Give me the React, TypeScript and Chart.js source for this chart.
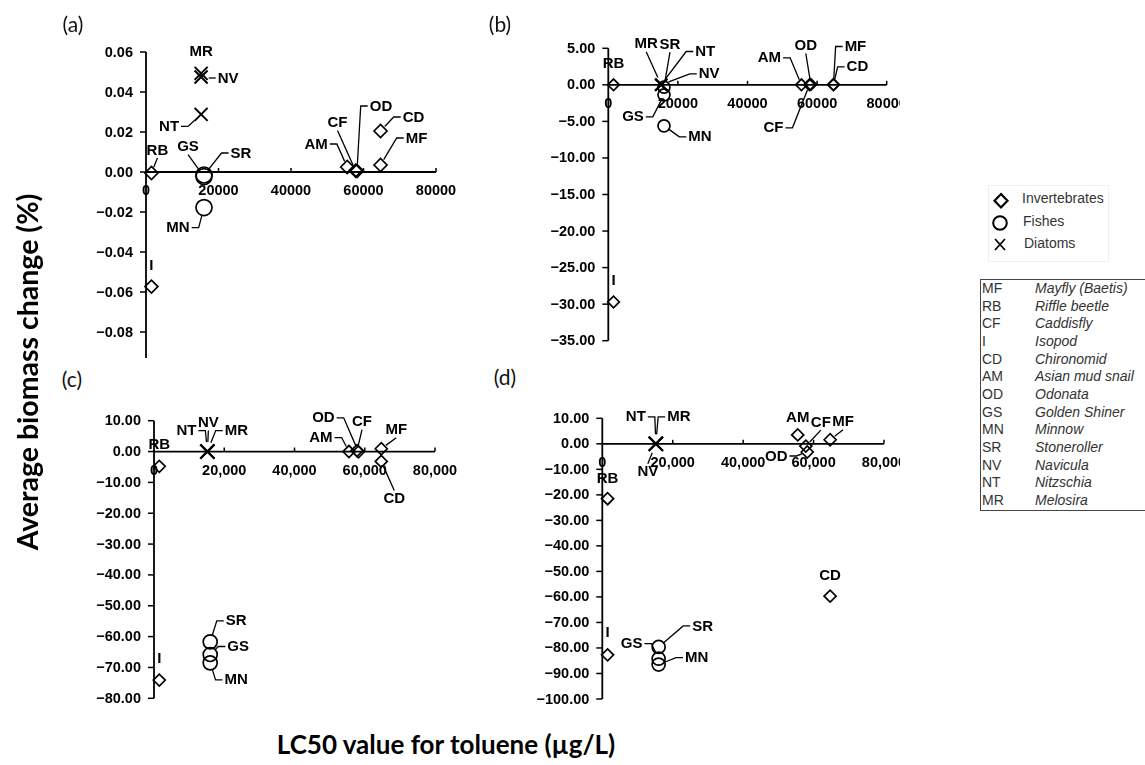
import React, { useEffect, useRef } from "react";
import { Chart, registerables } from "chart.js";
Chart.register(...registerables);

// ---------- DATA ----------
const SPECIES = ["MF", "RB", "CF", "I", "CD", "AM", "OD", "GS", "MN", "SR", "NV", "NT", "MR"];
const SPECIES_NAMES = [
  "Mayfly (Baetis)", "Riffle beetle", "Caddisfly", "Isopod", "Chironomid", "Asian mud snail",
  "Odonata", "Golden Shiner", "Minnow", "Stoneroller", "Navicula", "Nitzschia", "Melosira",
];
const GROUP = ["inv", "inv", "inv", "inv", "inv", "inv", "inv", "fish", "fish", "fish", "diat", "diat", "diat"];
const LC50 = [64700, 1500, 57800, 1500, 64700, 55500, 58200, 16000, 16000, 16000, 15200, 15200, 15200];

const BIOMASS_A = [0.0035, -0.0005, 0.0007, -0.0573, 0.0205, 0.0025, 0.0005, -0.0023, -0.0178, -0.0015, 0.0475, 0.0288, 0.0493];
const BIOMASS_B = [0.05, 0, 0, -29.7, 0, 0, 0.05, -1.36, -5.6, -0.3, 0, 0.05, 0];
const BIOMASS_C = [0.9, -4.8, 0.3, -74.1, -3.2, 0, -0.1, -65.8, -68.5, -61.7, 0, 0, 0];
const BIOMASS_D = [1.6, -21.5, -0.9, -82.7, -59.7, 3.5, -3.2, -84.2, -86.5, -79.6, 0, 0, 0];

const X_TICKS = [0, 20000, 40000, 60000, 80000];
const Y_TICKS_A = [0.06, 0.04, 0.02, 0, -0.02, -0.04, -0.06, -0.08, -0.1];
const Y_TICKS_B = [5, 0, -5, -10, -15, -20, -25, -30, -35];
const Y_TICKS_C = [10, 0, -10, -20, -30, -40, -50, -60, -70, -80];
const Y_TICKS_D = [10, 0, -10, -20, -30, -40, -50, -60, -70, -80, -90, -100];

const GROUPS = [
  { key: "inv", name: "Invertebrates", style: "rectRot" },
  { key: "fish", name: "Fishes", style: "circle" },
  { key: "diat", name: "Diatoms", style: "crossRot" },
];

// ---------- LAYOUT (label offsets in px, leader type) ----------
type Lbl = [string, number, number, "n" | "h" | "v"];
const LABELS_A: Lbl[] = [
  ["MF", 36, -27, "h"], ["RB", 6, -23, "v"], ["CF", -18, -48, "v"], ["I", 0, -21, "n"],
  ["CD", 33, -14, "h"], ["AM", -31, -23, "h"], ["OD", 24, -65, "h"], ["GS", -16, -30, "v"],
  ["MN", -26, 20, "h"], ["SR", 37, -22, "h"], ["NV", 27, 1, "h"], ["NT", -32, 12, "h"], ["MR", 0, -22, "n"],
];
const LABELS_B: Lbl[] = [
  ["MF", 22, -38, "h"], ["RB", 0, -21, "n"], ["CF", -36, 43, "h"], ["I", 0, -22, "n"],
  ["CD", 24, -18, "h"], ["AM", -32, -27, "h"], ["OD", -5, -39, "v"], ["GS", -31, 22, "h"],
  ["MN", 36, 11, "h"], ["SR", 6, -43, "v"], ["NV", 48, -11, "h"], ["NT", 44, -33, "h"], ["MR", -15, -41, "v"],
];
const LABELS_C: Lbl[] = [
  ["MF", 15, -19, "v"], ["RB", 0, -22, "n"], ["CF", 5, -29, "v"], ["I", 0, -22, "n"],
  ["CD", 13, 37, "v"], ["AM", -28, -14, "h"], ["OD", -35, -34, "h"], ["GS", 28, -8, "h"],
  ["MN", 26, 17, "h"], ["SR", 26, -21, "h"], ["NV", 1, -29, "v"], ["NT", -21, -21, "h"], ["MR", 29, -21, "h"],
];
const LABELS_D: Lbl[] = [
  ["MF", 13, -18, "v"], ["RB", 0, -20, "n"], ["CF", 15, -24, "v"], ["I", 0, -22, "n"],
  ["CD", 0, -21, "n"], ["AM", 0, -18, "n"], ["OD", -31, 4, "h"], ["GS", -27, -15, "h"],
  ["MN", 38, -7, "h"], ["SR", 44, -21, "h"], ["NV", -8, 28, "v"], ["NT", -20, -27, "h"], ["MR", 23, -27, "h"],
];

type Cfg = {
  values: number[];
  yTicks: number[];
  yMin: number;
  yMax: number;
  yAxisBottom: number;
  comma: boolean;
  labels: Lbl[];
  radius: Record<string, number>;
  canvas: { left: number; top: number; w: number; h: number };
  area: { l: number; t: number; r: number; b: number };
};

const PANELS: Cfg[] = [
  {
    values: BIOMASS_A, yTicks: Y_TICKS_A, yMin: -0.08, yMax: 0.06, yAxisBottom: -0.1, comma: false,
    labels: LABELS_A, radius: { inv: 6.5, fish: 8, diat: 9.2 },
    canvas: { left: 40, top: 30, w: 440, h: 328 }, area: { l: 146, t: 52, r: 436, b: 332 },
  },
  {
    values: BIOMASS_B, yTicks: Y_TICKS_B, yMin: -35, yMax: 5, yAxisBottom: -35, comma: false,
    labels: LABELS_B, radius: { inv: 5.8, fish: 6, diat: 8.5 },
    canvas: { left: 480, top: 30, w: 420, h: 330 }, area: { l: 608.3, t: 48.3, r: 886.7, b: 340.7 },
  },
  {
    values: BIOMASS_C, yTicks: Y_TICKS_C, yMin: -80, yMax: 10, yAxisBottom: -80, comma: true,
    labels: LABELS_C, radius: { inv: 6, fish: 7, diat: 10 },
    canvas: { left: 40, top: 395, w: 440, h: 320 }, area: { l: 154, t: 420.7, r: 435, b: 698.3 },
  },
  {
    values: BIOMASS_D, yTicks: Y_TICKS_D, yMin: -100, yMax: 10, yAxisBottom: -100, comma: true,
    labels: LABELS_D, radius: { inv: 6, fish: 6.5, diat: 10 },
    canvas: { left: 480, top: 395, w: 420, h: 316 }, area: { l: 602.3, t: 418.3, r: 884, b: 708.3 },
  },
];

const TICK_FONT = "bold 14.5px 'Liberation Sans', Arial, sans-serif";
const LABEL_FONT = "bold 15px 'Liberation Sans', Arial, sans-serif";

function fmtY(v: number) {
  const s = Math.abs(v).toFixed(2);
  return v < 0 ? "\u2212" + s : s;
}
function fmtX(v: number, comma: boolean) {
  return comma ? v.toLocaleString("en-US") : String(v);
}

function axesPlugin(cfg: Cfg) {
  return {
    id: "customAxes",
    beforeDatasetsDraw(chart: any) {
      const ctx = chart.ctx as CanvasRenderingContext2D;
      const xs = chart.scales.x, ys = chart.scales.y;
      const x0 = xs.getPixelForValue(0);
      const y0 = ys.getPixelForValue(0);
      ctx.save();
      ctx.strokeStyle = "#000";
      ctx.lineWidth = 1.8;
      ctx.beginPath();
      ctx.moveTo(x0, ys.getPixelForValue(cfg.yMax));
      ctx.lineTo(x0, ys.getPixelForValue(cfg.yAxisBottom));
      ctx.stroke();
      ctx.beginPath();
      ctx.moveTo(x0, y0);
      ctx.lineTo(xs.getPixelForValue(80000), y0);
      ctx.stroke();
      ctx.lineWidth = 1.5;
      ctx.font = TICK_FONT;
      ctx.fillStyle = "#000";
      ctx.textAlign = "right";
      ctx.textBaseline = "middle";
      for (const t of cfg.yTicks) {
        const py = ys.getPixelForValue(t);
        ctx.beginPath();
        ctx.moveTo(x0 - 6, py);
        ctx.lineTo(x0, py);
        ctx.stroke();
        ctx.fillText(fmtY(t), x0 - 13, py + 0.5);
      }
      ctx.textAlign = "center";
      for (const t of X_TICKS) {
        const px = xs.getPixelForValue(t);
        if (t !== 0) {
          ctx.beginPath();
          ctx.moveTo(px, y0);
          ctx.lineTo(px, y0 - 4);
          ctx.stroke();
        }
        ctx.fillText(fmtX(t, cfg.comma), px, y0 + 19);
      }
      ctx.restore();
    },
  };
}

function labelsPlugin(cfg: Cfg) {
  return {
    id: "pointLabels",
    afterDatasetsDraw(chart: any) {
      const ctx = chart.ctx as CanvasRenderingContext2D;
      const xs = chart.scales.x, ys = chart.scales.y;
      ctx.save();
      ctx.font = LABEL_FONT;
      ctx.fillStyle = "#000";
      ctx.strokeStyle = "#000";
      ctx.lineWidth = 1.3;
      ctx.textAlign = "center";
      ctx.textBaseline = "middle";
      for (const [code, dx, dy, kind] of cfg.labels) {
        const i = SPECIES.indexOf(code);
        const px = xs.getPixelForValue(LC50[i]);
        const py = ys.getPixelForValue(cfg.values[i]);
        const r = cfg.radius[GROUP[i]];
        const lx = px + dx, ly = py + dy;
        const w = ctx.measureText(code).width;
        ctx.fillText(code, lx, ly + 0.5);
        if (kind === "n") continue;
        let sx: number, sy: number, ex: number, ey: number;
        if (kind === "h") {
          const side = lx > px ? -1 : 1;
          sx = lx + side * (w / 2 + 2);
          sy = ly;
          ex = sx + side * 7;
          ey = ly;
        } else {
          const side = ly > py ? -1 : 1;
          sx = lx;
          sy = ly + side * 8;
          ex = sx;
          ey = sy;
        }
        ctx.beginPath();
        ctx.moveTo(sx, sy);
        ctx.lineTo(ex, ey);
        const ddx = px - ex, ddy = py - ey;
        const d = Math.hypot(ddx, ddy);
        if (d > r) {
          ctx.lineTo(px - (ddx / d) * r * 0.95, py - (ddy / d) * r * 0.95);
        }
        ctx.stroke();
      }
      ctx.restore();
    },
  };
}

function Panel({ cfg }: { cfg: Cfg }) {
  const ref = useRef<HTMLCanvasElement>(null);
  useEffect(() => {
    const c = ref.current!;
    const { canvas, area } = cfg;
    const chart = new Chart(c, {
      type: "scatter",
      data: {
        datasets: GROUPS.map((g) => ({
          label: g.name,
          data: SPECIES.map((_, i) => i)
            .filter((i) => GROUP[i] === g.key)
            .map((i) => ({ x: LC50[i], y: cfg.values[i] })),
          pointStyle: g.style as any,
          pointRadius: cfg.radius[g.key],
          pointHoverRadius: cfg.radius[g.key],
          borderColor: "#000",
          backgroundColor: "rgba(0,0,0,0)",
          pointBorderWidth: g.key === "diat" ? 2 : 1.7,
          borderWidth: g.key === "diat" ? 2 : 1.7,
          clip: false as any,
        })),
      },
      options: {
        responsive: false,
        maintainAspectRatio: false,
        animation: false,
        events: [],
        layout: {
          padding: {
            left: area.l - canvas.left,
            top: area.t - canvas.top,
            right: canvas.left + canvas.w - area.r,
            bottom: canvas.top + canvas.h - area.b,
          },
        },
        scales: {
          x: { type: "linear", display: false, min: 0, max: 80000 },
          y: { type: "linear", display: false, min: cfg.yMin, max: cfg.yMax },
        },
        plugins: { legend: { display: false }, tooltip: { enabled: false } },
      },
      plugins: [axesPlugin(cfg), labelsPlugin(cfg)],
    });
    return () => chart.destroy();
  }, [cfg]);
  return (
    <canvas
      ref={ref}
      width={cfg.canvas.w}
      height={cfg.canvas.h}
      style={{ position: "absolute", left: cfg.canvas.left, top: cfg.canvas.top, width: cfg.canvas.w, height: cfg.canvas.h }}
    />
  );
}

const PANEL_TAGS = ["(a)", "(b)", "(c)", "(d)"];
const TAG_POS = [
  [73, 25],
  [500, 25],
  [72, 380],
  [505, 378],
];

function Txt({ x, y, children, style }: any) {
  return (
    <div style={{ position: "absolute", left: x, top: y - 10, height: 20, lineHeight: "20px", whiteSpace: "nowrap", ...style }}>
      {children}
    </div>
  );
}

export default function App() {
  return (
    <div style={{ position: "absolute", left: 0, top: 0, width: 1145, height: 765, background: "#fff", overflow: "hidden" }}>
      {PANELS.map((p, i) => (
        <Panel key={i} cfg={p} />
      ))}
      {PANEL_TAGS.map((t, i) => (
        <div
          key={t}
          style={{
            position: "absolute", left: TAG_POS[i][0] - 20, top: TAG_POS[i][1] - 14, width: 40, height: 28,
            lineHeight: "28px", textAlign: "center", font: "21px Lato, 'Open Sans', sans-serif", color: "#111",
          }}
        >
          {t}
        </div>
      ))}
      {/* Y axis title */}
      <div
        style={{
          position: "absolute", left: 28 - 250, top: 372 - 18, width: 500, height: 36, lineHeight: "36px",
          textAlign: "center", transform: "rotate(-90deg)", font: "bold 28.5px Lato, 'Open Sans', sans-serif", color: "#000",
        }}
      >
        Average biomass change (%)
      </div>
      {/* X axis title */}
      <div
        style={{
          position: "absolute", left: 446 - 250, top: 745 - 17, width: 500, height: 34, lineHeight: "34px",
          textAlign: "center", font: "bold 26px Lato, 'Open Sans', sans-serif", color: "#000",
        }}
      >
        LC50 value for toluene (µg/L)
      </div>
      {/* Legend of marker groups */}
      <div style={{ position: "absolute", left: 988, top: 185, width: 121, height: 77, border: "1px solid #f0f0f0", boxSizing: "border-box" }} />
      <svg style={{ position: "absolute", left: 990, top: 190 }} width={22} height={66}>
        <path d="M11 4 L17.5 10.7 L11 17.4 L4.5 10.7 Z" fill="none" stroke="#000" strokeWidth={2.2} />
        <circle cx={10} cy={33} r={6.8} fill="none" stroke="#000" strokeWidth={2} />
        <path d="M5 49 L15 60 M15 49 L5 60" stroke="#000" strokeWidth={1.8} />
      </svg>
      {GROUPS.map((g, i) => (
        <Txt key={g.key} x={1022 + i} y={200 + i * 22.5} style={{ font: "14px 'Liberation Sans', Arial, sans-serif", color: "#333" }}>
          {g.name}
        </Txt>
      ))}
      {/* Species key */}
      <div style={{ position: "absolute", left: 980, top: 279, width: 166, height: 232, border: "1px solid #444", boxSizing: "border-box" }} />
      {SPECIES.map((s, i) => (
        <React.Fragment key={s}>
          <Txt x={982} y={290 + i * 17.67} style={{ font: "14px 'Liberation Sans', Arial, sans-serif", color: "#333" }}>
            {s}
          </Txt>
          <Txt x={1035} y={290 + i * 17.67} style={{ font: "italic 14px 'Liberation Sans', Arial, sans-serif", color: "#333" }}>
            {SPECIES_NAMES[i]}
          </Txt>
        </React.Fragment>
      ))}
    </div>
  );
}
